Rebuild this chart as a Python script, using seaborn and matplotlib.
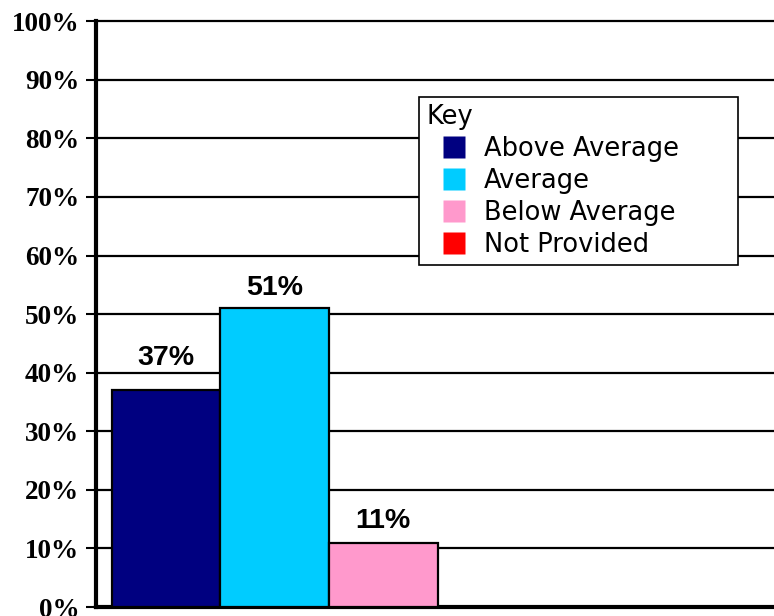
import matplotlib
matplotlib.use("Agg")
import matplotlib.pyplot as plt
from matplotlib.lines import Line2D
import seaborn as sns
import pandas as pd

# data
categories = ["Above Average", "Average", "Below Average", "Not Provided"]
values = [37, 51, 11, 0]
colors = ["#000080", "#00CCFF", "#FF99CC", "#FF0000"]
y_ticks = list(range(0, 101, 10))
y_labels = [f"{t}%" for t in y_ticks]

sns.set_style("white")
plt.rcParams["text.color"] = "black"
plt.rcParams["ytick.color"] = "black"
plt.rcParams["ytick.labelcolor"] = "black"

fig = plt.figure(figsize=(7.74, 6.16), dpi=100)
ax = fig.add_axes([0.124, 0.0146, 0.876, 0.951])

df = pd.DataFrame({"cat": categories, "val": values})
sns.barplot(data=df, x="cat", y="val", hue="cat", palette=colors,
            saturation=1, width=1.0, edgecolor="black", linewidth=1.6,
            legend=False, ax=ax, zorder=3)

# value labels above the bars
label_pad = [3.3, 1.2, 1.5, 0]
for i, v in enumerate(values):
    if v > 0:
        ax.text(i, v + label_pad[i], f"{v}%", ha="center", va="bottom",
                fontsize=20.5, fontweight="bold", family="Liberation Sans",
                zorder=4)

ax.set_xlim(-0.647, 5.6)
ax.set_ylim(0, 100)
ax.set_xticks([])
ax.set_xlabel("")
ax.set_ylabel("")
ax.set_yticks(y_ticks)
ax.set_yticklabels(y_labels, fontsize=19.5, fontweight="bold",
                   family="Liberation Serif")
ax.tick_params(axis="y", direction="out", length=7, width=1.5, pad=5,
               left=True, color="black")

ax.yaxis.grid(True, color="black", linewidth=1.6, zorder=0)
for gl in ax.get_ygridlines():
    gl.set_clip_on(False)
ax.set_axisbelow(True)
for s in ["top", "right"]:
    ax.spines[s].set_visible(False)
ax.spines["left"].set_linewidth(3)
ax.spines["bottom"].set_linewidth(3)
ax.spines["left"].set_color("black")
ax.spines["bottom"].set_color("black")

handles = [Line2D([], [], linestyle="none", marker="s", markersize=16,
                  markerfacecolor=c, markeredgecolor="none") for c in colors]
leg = ax.legend(handles, categories, title="Key", loc="upper left",
                bbox_to_anchor=(0.4764, 0.5, 0.4705, 0.3703), mode="expand",
                frameon=True, fancybox=False,
                prop={"family": "DejaVu Sans", "size": 18.5},
                title_fontproperties={"family": "DejaVu Sans", "size": 18.5},
                handlelength=2.2, handletextpad=0.05,
                labelspacing=0.23, borderpad=0.28, borderaxespad=0)
leg._legend_box.align = "left"
leg.get_frame().set_edgecolor("black")
leg.get_frame().set_linewidth(1.2)
leg.get_frame().set_alpha(1)
leg.set_zorder(5)

fig.savefig("out.png", dpi=100)
